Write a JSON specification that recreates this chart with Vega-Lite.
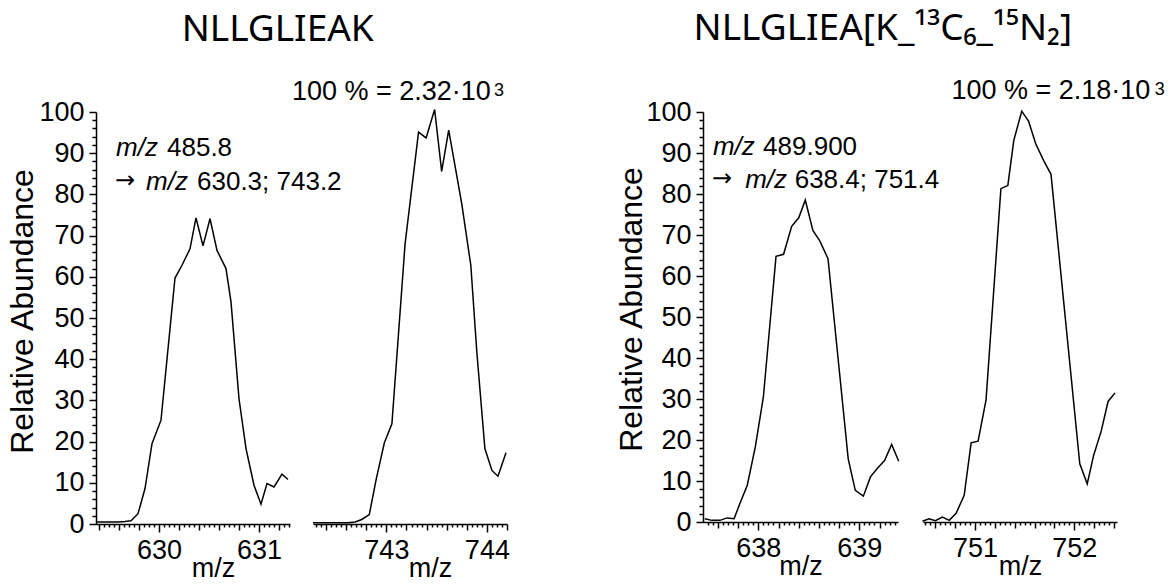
{
  "$schema": "https://vega.github.io/schema/vega-lite/v6.json",
  "background": "white",
  "padding": {"left": 6, "top": 9, "right": 5, "bottom": 5},
  "config": {
    "view": {"stroke": null},
    "axis": {"domainColor": "black", "tickColor": "black", "domainWidth": 1.5, "tickWidth": 1.5, "labelColor": "black", "titleColor": "black", "labelFont": "Liberation Sans", "titleFont": "Liberation Sans", "labelFontSize": 27, "titleFontSize": 27, "titleFontWeight": "normal", "grid": false, "labelFlush": false, "labelOverlap": false},
    "axisX": {
      "tickCount": 40,
      "labelExpr": "abs(datum.value - round(datum.value)) < 0.001 ? format(datum.value, '.0f') : ''",
      "labelPadding": 5,
      "titleY": 52, "titleBaseline": "alphabetic", "titleAlign": "center"
    },
    "axisY": {
      "tickCount": 50,
      "labelExpr": "datum.value % 10 == 0 ? datum.label : ''",
      "labelPadding": 5,
      "titleFontSize": 32, "titleAngle": -90, "titleAlign": "center", "titleBaseline": "middle"
    },
    "text": {"font": "Liberation Sans", "fontSize": 26, "color": "black", "align": "left", "baseline": "alphabetic"},
    "line": {"color": "black", "strokeWidth": 1.5},
    "title": {"font": "Noto Sans", "fontSize": 37, "fontWeight": "normal", "color": "black", "anchor": "middle", "offset": 29}
  },
  "datasets": {
    "lineA": [
      {"mz": 629.38, "rel": 0.5}, {"mz": 629.45, "rel": 0.5}, {"mz": 629.52, "rel": 0.5}, {"mz": 629.59, "rel": 0.5},
      {"mz": 629.66, "rel": 0.6}, {"mz": 629.72, "rel": 0.8}, {"mz": 629.79, "rel": 2.5}, {"mz": 629.86, "rel": 8.6},
      {"mz": 629.93, "rel": 19.5}, {"mz": 630.02, "rel": 25.2}, {"mz": 630.16, "rel": 59.7}, {"mz": 630.23, "rel": 62.8},
      {"mz": 630.31, "rel": 66.8}, {"mz": 630.37, "rel": 74.3}, {"mz": 630.44, "rel": 67.5}, {"mz": 630.51, "rel": 74.1},
      {"mz": 630.58, "rel": 66.4}, {"mz": 630.67, "rel": 62.0}, {"mz": 630.72, "rel": 53.9}, {"mz": 630.80, "rel": 30.4},
      {"mz": 630.87, "rel": 18.3}, {"mz": 630.95, "rel": 9.4}, {"mz": 631.02, "rel": 4.8}, {"mz": 631.08, "rel": 9.8},
      {"mz": 631.15, "rel": 9.0}, {"mz": 631.23, "rel": 12.1}, {"mz": 631.29, "rel": 10.8}
    ],
    "itA": [{"mz": 629.57, "rel": 89.2, "t": "m/z"}, {"mz": 629.87, "rel": 81.1, "t": "m/z"}],
    "arA": [{"mz": 629.56, "rel": 81.6, "t": "→"}],
    "txA": [{"mz": 630.08, "rel": 89.2, "t": "485.8"}, {"mz": 630.38, "rel": 81.1, "t": "630.3; 743.2"}],
    "lineB": [
      {"mz": 742.27, "rel": 0.3}, {"mz": 742.34, "rel": 0.3}, {"mz": 742.41, "rel": 0.3}, {"mz": 742.48, "rel": 0.3},
      {"mz": 742.55, "rel": 0.3}, {"mz": 742.62, "rel": 0.3}, {"mz": 742.69, "rel": 0.5}, {"mz": 742.755, "rel": 1.1},
      {"mz": 742.83, "rel": 2.3}, {"mz": 742.90, "rel": 11.0}, {"mz": 742.98, "rel": 19.7}, {"mz": 743.055, "rel": 24.3},
      {"mz": 743.186, "rel": 68.0}, {"mz": 743.32, "rel": 95.1}, {"mz": 743.395, "rel": 93.7}, {"mz": 743.48, "rel": 100.6},
      {"mz": 743.55, "rel": 85.6}, {"mz": 743.62, "rel": 95.6}, {"mz": 743.75, "rel": 77.7}, {"mz": 743.84, "rel": 62.8},
      {"mz": 743.90, "rel": 41.7}, {"mz": 743.98, "rel": 18.3}, {"mz": 744.05, "rel": 13.0}, {"mz": 744.11, "rel": 11.6},
      {"mz": 744.19, "rel": 17.3}
    ],
    "pctB": [{"mz": 742.06, "rel": 102.9, "t": "100 % = 2.32·10"}],
    "supB": [{"mz": 744.07, "rel": 104.0, "t": "3"}],
    "lineC": [
      {"mz": 637.47, "rel": 0.8}, {"mz": 637.54, "rel": 0.4}, {"mz": 637.62, "rel": 0.4}, {"mz": 637.69, "rel": 1.0},
      {"mz": 637.76, "rel": 0.8}, {"mz": 637.82, "rel": 4.7}, {"mz": 637.89, "rel": 8.9}, {"mz": 637.97, "rel": 18.3},
      {"mz": 638.05, "rel": 30.5}, {"mz": 638.175, "rel": 64.8}, {"mz": 638.25, "rel": 65.3}, {"mz": 638.33, "rel": 72.1},
      {"mz": 638.40, "rel": 74.2}, {"mz": 638.465, "rel": 78.5}, {"mz": 638.54, "rel": 71.1}, {"mz": 638.61, "rel": 68.5},
      {"mz": 638.69, "rel": 64.2}, {"mz": 638.89, "rel": 15.4}, {"mz": 638.96, "rel": 7.7}, {"mz": 639.04, "rel": 6.3},
      {"mz": 639.11, "rel": 11.0}, {"mz": 639.175, "rel": 13.0}, {"mz": 639.25, "rel": 15.0}, {"mz": 639.32, "rel": 18.9},
      {"mz": 639.39, "rel": 14.8}
    ],
    "itC": [{"mz": 637.55, "rel": 89.4, "t": "m/z"}, {"mz": 637.87, "rel": 81.5, "t": "m/z"}],
    "arC": [{"mz": 637.54, "rel": 82.0, "t": "→"}],
    "txC": [{"mz": 638.047, "rel": 89.4, "t": "489.900"}, {"mz": 638.36, "rel": 81.5, "t": "638.4; 751.4"}],
    "lineD": [
      {"mz": 750.47, "rel": 0.2}, {"mz": 750.535, "rel": 0.8}, {"mz": 750.60, "rel": 0.3}, {"mz": 750.67, "rel": 1.2},
      {"mz": 750.74, "rel": 0.4}, {"mz": 750.81, "rel": 2.2}, {"mz": 750.89, "rel": 6.5}, {"mz": 750.96, "rel": 19.3},
      {"mz": 751.03, "rel": 19.7}, {"mz": 751.11, "rel": 29.7}, {"mz": 751.26, "rel": 81.3}, {"mz": 751.33, "rel": 82.1},
      {"mz": 751.39, "rel": 93.1}, {"mz": 751.47, "rel": 100.2}, {"mz": 751.54, "rel": 97.7}, {"mz": 751.61, "rel": 92.3},
      {"mz": 751.69, "rel": 88.2}, {"mz": 751.765, "rel": 84.8}, {"mz": 752.055, "rel": 14.2}, {"mz": 752.13, "rel": 9.3},
      {"mz": 752.195, "rel": 16.3}, {"mz": 752.27, "rel": 22.1}, {"mz": 752.34, "rel": 29.4}, {"mz": 752.41, "rel": 31.5}
    ],
    "pctD": [{"mz": 750.761, "rel": 103.2, "t": "100 % = 2.18·10"}],
    "supD": [{"mz": 752.81, "rel": 104.1, "t": "3"}]
  },
  "spacing": 105,
  "hconcat": [
    {
      "title": {"text": "NLLGLIEAK", "dx": 20},
      "bounds": "flush",
      "spacing": 23,
      "hconcat": [
        {
          "width": 194, "height": 412,
          "encoding": {
            "x": {"field": "mz", "type": "quantitative", "scale": {"domain": [629.37, 631.31], "nice": false, "zero": false},
                  "axis": {"title": "m/z", "titleX": 117, "tickSize": {"condition": [{"test": "abs(datum.value - round(datum.value)) < 0.001", "value": 8}, {"test": "abs(datum.value * 5 - round(datum.value * 5)) < 0.01", "value": 6}], "value": 3}}},
            "y": {"field": "rel", "type": "quantitative", "scale": {"domain": [0, 100], "nice": false, "zero": false},
                  "axis": {"title": "Relative Abundance", "titleX": -74, "titleY": 199, "tickSize": {"condition": {"test": "datum.value % 10 == 0", "value": 7}, "value": 4}}}
          },
          "layer": [
            {"data": {"name": "lineA"}, "mark": {"type": "line"}},
            {"data": {"name": "itA"}, "mark": {"type": "text", "fontStyle": "italic"}, "encoding": {"text": {"field": "t"}}},
            {"data": {"name": "arA"}, "mark": {"type": "text", "font": "DejaVu Sans", "fontSize": 24}, "encoding": {"text": {"field": "t"}}},
            {"data": {"name": "txA"}, "mark": {"type": "text"}, "encoding": {"text": {"field": "t"}}}
          ]
        },
        {
          "width": 194, "height": 412,
          "encoding": {
            "x": {"field": "mz", "type": "quantitative", "scale": {"domain": [742.27, 744.2], "nice": false, "zero": false},
                  "axis": {"title": "m/z", "titleX": 117, "tickSize": {"condition": [{"test": "abs(datum.value - round(datum.value)) < 0.001", "value": 8}, {"test": "abs(datum.value * 5 - round(datum.value * 5)) < 0.01", "value": 6}], "value": 3}}},
            "y": {"field": "rel", "type": "quantitative", "scale": {"domain": [0, 100], "nice": false, "zero": false}, "axis": null}
          },
          "layer": [
            {"data": {"name": "lineB"}, "mark": {"type": "line"}},
            {"data": {"name": "pctB"}, "mark": {"type": "text", "fontSize": 27}, "encoding": {"text": {"field": "t"}}},
            {"data": {"name": "supB"}, "mark": {"type": "text", "fontSize": 18}, "encoding": {"text": {"field": "t"}}}
          ]
        }
      ]
    },
    {
      "title": {"text": "NLLGLIEA[K_¹³C₆_¹⁵N₂]", "dx": -7},
      "bounds": "flush",
      "spacing": 25,
      "hconcat": [
        {
          "width": 195, "height": 410,
          "encoding": {
            "x": {"field": "mz", "type": "quantitative", "scale": {"domain": [637.452, 639.383], "nice": false, "zero": false},
                  "axis": {"title": "m/z", "tickSize": {"condition": [{"test": "abs(datum.value - round(datum.value)) < 0.001", "value": 8}, {"test": "abs(datum.value * 5 - round(datum.value * 5)) < 0.01", "value": 6}], "value": 3}}},
            "y": {"field": "rel", "type": "quantitative", "scale": {"domain": [0, 100], "nice": false, "zero": false},
                  "axis": {"title": "Relative Abundance", "titleX": -72, "titleY": 197, "tickSize": {"condition": {"test": "datum.value % 10 == 0", "value": 7}, "value": 4}}}
          },
          "layer": [
            {"data": {"name": "lineC"}, "mark": {"type": "line"}},
            {"data": {"name": "itC"}, "mark": {"type": "text", "fontStyle": "italic"}, "encoding": {"text": {"field": "t"}}},
            {"data": {"name": "arC"}, "mark": {"type": "text", "font": "DejaVu Sans", "fontSize": 24}, "encoding": {"text": {"field": "t"}}},
            {"data": {"name": "txC"}, "mark": {"type": "text"}, "encoding": {"text": {"field": "t"}}}
          ]
        },
        {
          "width": 194, "height": 410,
          "encoding": {
            "x": {"field": "mz", "type": "quantitative", "scale": {"domain": [750.475, 752.43], "nice": false, "zero": false},
                  "axis": {"title": "m/z", "tickSize": {"condition": [{"test": "abs(datum.value - round(datum.value)) < 0.001", "value": 8}, {"test": "abs(datum.value * 5 - round(datum.value * 5)) < 0.01", "value": 6}], "value": 3}}},
            "y": {"field": "rel", "type": "quantitative", "scale": {"domain": [0, 100], "nice": false, "zero": false}, "axis": null}
          },
          "layer": [
            {"data": {"name": "lineD"}, "mark": {"type": "line"}},
            {"data": {"name": "pctD"}, "mark": {"type": "text", "fontSize": 27}, "encoding": {"text": {"field": "t"}}},
            {"data": {"name": "supD"}, "mark": {"type": "text", "fontSize": 18}, "encoding": {"text": {"field": "t"}}}
          ]
        }
      ]
    }
  ]
}
